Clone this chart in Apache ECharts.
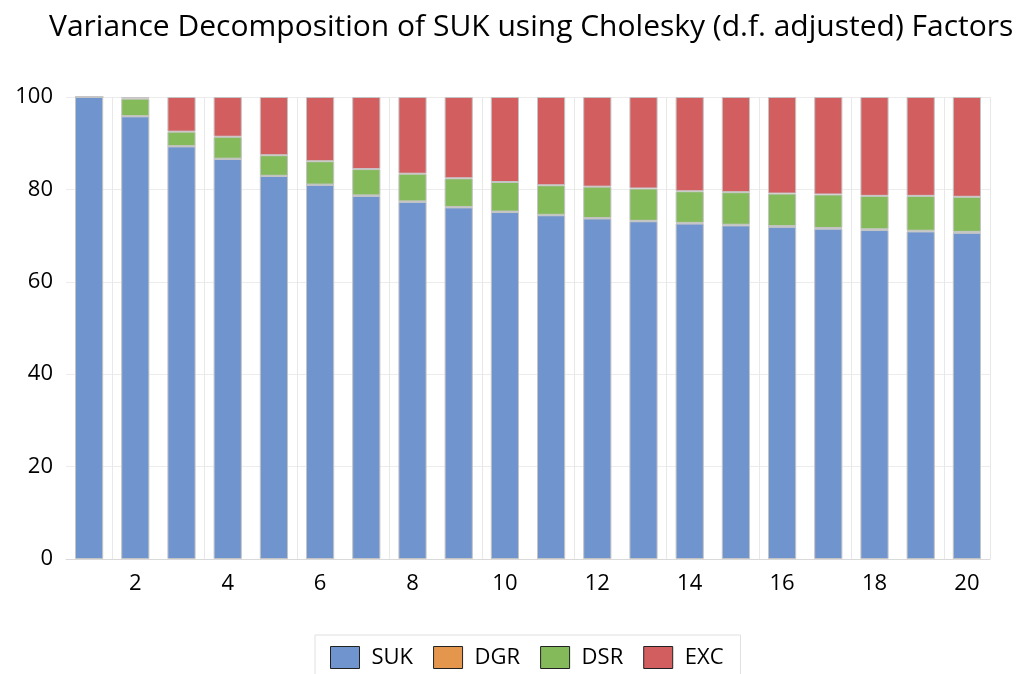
<!DOCTYPE html>
<html>
<head>
<meta charset="utf-8">
<script src="https://cdn.jsdelivr.net/npm/echarts@6/dist/echarts.min.js"></script>
<style>
    html, body { margin: 0; padding: 0; background: #fff; }
    #chart { width: 1017px; height: 674px; }
</style>
</head>
<body>
<div id="chart"></div>
<script>
// periods 1..20
const periods = ['1', '2', '3', '4', '5', '6', '7', '8', '9', '10',
    '11', '12', '13', '14', '15', '16', '17', '18', '19', '20']

// shares of variance, percent
const suk = [100, 95.8, 89.3, 86.6, 82.9, 81.0, 78.6, 77.3, 76.1, 75.1,
    74.4, 73.7, 73.1, 72.6, 72.2, 71.9, 71.5, 71.2, 70.9, 70.6]
const dgr = [0, 0.05, 0.05, 0.05, 0.05, 0.05, 0.1, 0.1, 0.1, 0.1,
    0.1, 0.1, 0.1, 0.15, 0.15, 0.15, 0.15, 0.15, 0.15, 0.2]
const dsr = [0, 3.8, 3.15, 4.75, 4.45, 5.05, 5.7, 6.0, 6.2, 6.4,
    6.4, 6.8, 7.0, 6.85, 7.05, 7.05, 7.25, 7.25, 7.55, 7.6]
const exc = [0, 0.35, 7.5, 8.6, 12.6, 13.9, 15.6, 16.6, 17.6, 18.4,
    19.1, 19.4, 19.8, 20.4, 20.6, 20.9, 21.1, 21.4, 21.4, 21.6]

const yTicks = [0, 20, 40, 60, 80, 100]

const font = '"Open Sans", "Noto Sans", sans-serif'

const chart = echarts.init(document.getElementById('chart'), null, { renderer: 'canvas' })

// 一个堆叠系列
function stackSeries (name, data, color) {
    return {
        name,
        type: 'bar',
        stack: 'total',
        data,
        barCategoryGap: '39%',
        itemStyle: { color, borderColor: '#c4c4c4', borderWidth: 1 }
    }
}

chart.setOption({
    animation: false,
    title: {
        text: 'Variance Decomposition of SUK using Cholesky (d.f. adjusted) Factors',
        left: 44,
        top: 7,
        textStyle: { fontFamily: font, fontSize: 30, fontWeight: 'normal', color: '#000' }
    },
    legend: {
        top: 635,
        left: 315,
        icon: 'rect',
        itemWidth: 29,
        itemHeight: 22,
        itemGap: 20,
        padding: [11, 17, 20, 15],
        borderColor: '#e0e0e0',
        borderWidth: 1,
        textStyle: { fontFamily: font, fontSize: 22, color: '#000', padding: [0, 0, 0, 7] },
        itemStyle: { borderColor: '#222', borderWidth: 1 },
        data: ['SUK', 'DGR', 'DSR', 'EXC']
    },
    grid: { left: 66, right: 27, top: 97, bottom: 115, containLabel: false },
    xAxis: {
        type: 'category',
        data: periods,
        axisLine: { show: true, lineStyle: { color: '#d9d9d9' } },
        axisTick: { show: false },
        axisLabel: {
            interval: (i) => i % 2 === 1,
            fontFamily: font,
            fontSize: 22,
            color: '#000',
            margin: 14
        },
        splitLine: {
            show: true,
            interval: (i) => i % 2 === 1,
            lineStyle: { color: '#e8e8e8' }
        }
    },
    yAxis: {
        type: 'value',
        min: yTicks[0],
        max: yTicks[yTicks.length - 1],
        interval: 20,
        axisLine: { show: false },
        axisTick: { show: false },
        axisLabel: { fontFamily: font, fontSize: 22, color: '#000', margin: 13 },
        splitLine: { lineStyle: { color: '#ececec' } }
    },
    series: [
        stackSeries('SUK', suk, '#7094cd'),
        stackSeries('DGR', dgr, '#e4974c'),
        stackSeries('DSR', dsr, '#85ba5b'),
        stackSeries('EXC', exc, '#d35e60')
    ]
})
</script>
</body>
</html>
